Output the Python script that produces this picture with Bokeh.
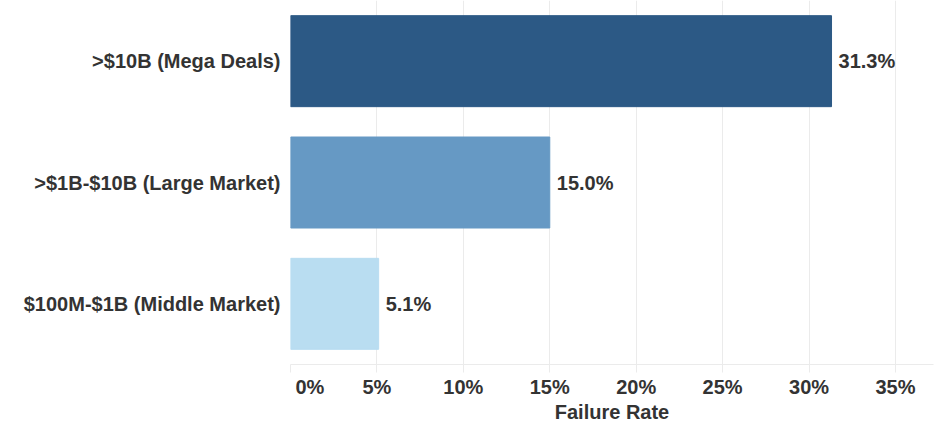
from bokeh.plotting import figure
from bokeh.models import ColumnDataSource, FactorRange, FixedTicker, CustomJSTickFormatter
from bokeh.embed import file_html
from bokeh.resources import INLINE
from bokeh.core.properties import value

categories = [">$10B (Mega Deals)", ">$1B-$10B (Large Market)", "$100M-$1B (Middle Market)"]
failure_rates = [31.3, 15.0, 5.1]
bar_colors = ["#2c5985", "#6699c4", "#b9ddf1"]
x_ticks = [0, 5, 10, 15, 20, 25, 30, 35]

labels = [f"{v:.1f}%" for v in failure_rates]
src = ColumnDataSource(dict(cat=categories, val=failure_rates, color=bar_colors, label=labels))

FONT = "Arial"
TXT = "#333333"
FS = "20px"

p = figure(width=935, height=425, output_backend="svg", toolbar_location=None,
           y_range=FactorRange(factors=list(reversed(categories))),
           x_range=(0, 37.2),
           min_border_left=290, min_border_right=2, min_border_top=0, min_border_bottom=61)
p.outline_line_color = None
p.background_fill_color = "white"
p.border_fill_color = "white"

p.hbar(y="cat", right="val", left=0, height=0.75, color="color", source=src)
p.text(x="val", y="cat", text="label", source=src, x_offset=7,
       text_align="left", text_baseline="middle", text_color=TXT,
       text_font=value(FONT), text_font_style="bold", text_font_size=FS)

p.xgrid.ticker = FixedTicker(ticks=x_ticks)
p.xgrid.grid_line_color = "#ebebeb"
p.ygrid.grid_line_color = None

p.xaxis.ticker = FixedTicker(ticks=x_ticks)
p.xaxis.formatter = CustomJSTickFormatter(
    code="return tick == 0 ? '\\u00a0\\u00a0\\u00a0\\u00a0\\u00a0\\u00a0\\u00a00%' : tick + '%';")
p.xaxis.axis_line_color = "#ebebeb"
p.xaxis.major_tick_line_color = "#ebebeb"
p.xaxis.major_tick_out = 8
p.xaxis.major_tick_in = 0
p.xaxis.minor_tick_line_color = None
p.xaxis.major_label_text_font = FONT
p.xaxis.major_label_text_font_style = "bold"
p.xaxis.major_label_text_font_size = FS
p.xaxis.major_label_text_color = TXT
p.xaxis.major_label_standoff = 3
p.xaxis.axis_label = "Failure Rate"
p.xaxis.axis_label_text_font = FONT
p.xaxis.axis_label_text_font_style = "bold"
p.xaxis.axis_label_text_font_size = FS
p.xaxis.axis_label_text_color = TXT
p.xaxis.axis_label_standoff = 0

p.yaxis.axis_line_color = None
p.yaxis.major_tick_line_color = None
p.yaxis.minor_tick_line_color = None
p.yaxis.major_label_text_font = FONT
p.yaxis.major_label_text_font_style = "bold"
p.yaxis.major_label_text_font_size = FS
p.yaxis.major_label_text_color = TXT
p.yaxis.major_label_standoff = 4

open("out.html", "w").write(file_html(p, INLINE))
